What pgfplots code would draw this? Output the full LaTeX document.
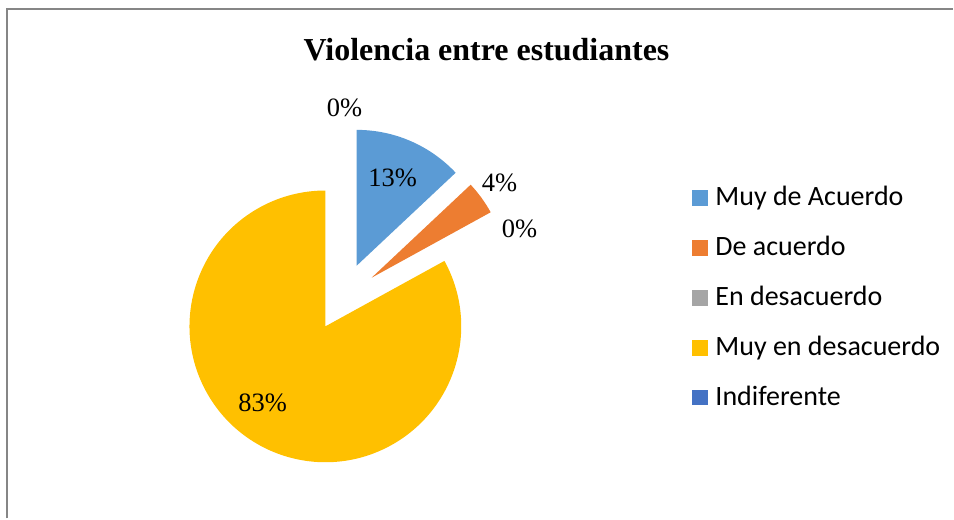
\documentclass[border=0pt]{standalone}
\usepackage{pgfplots}
\pgfplotsset{compat=1.18}
\usepackage{fontspec}
\setmainfont{Liberation Serif}
\newfontfamily\calibri{Carlito}
\definecolor{cA}{HTML}{5B9BD5}
\definecolor{cB}{HTML}{ED7D31}
\definecolor{cC}{HTML}{A5A5A5}
\definecolor{cD}{HTML}{FFC000}
\definecolor{cE}{HTML}{4472C4}
\definecolor{frame}{HTML}{868686}
% values (percent)
\def\vA{13}\def\vB{4}\def\vC{0}\def\vD{83}\def\vE{0}
\pgfmathsetmacro\sA{90}
\pgfmathsetmacro\eA{\sA-3.6*\vA}
\pgfmathsetmacro\eB{\eA-3.6*\vB}
\pgfmathsetmacro\eC{\eB-3.6*\vC}
\pgfmathsetmacro\eD{\eC-3.6*\vD}
\begin{document}
\begin{tikzpicture}
\begin{axis}[
  x=1pt, y=1pt, xmin=0, xmax=954, ymin=0, ymax=519, y dir=reverse,
  hide axis, clip=false, scale only axis,
]
\addplot[draw=none] coordinates {(0,0) (954,519)};
% frame
\draw[frame, line width=2pt] (axis cs:7,519) -- (axis cs:7,9.5) -- (axis cs:954,9.5);
% title
\node[font=\bfseries\fontsize{32}{36}\selectfont] at (axis cs:487,50) {Violencia entre estudiantes};
% slices
\fill[cA] (axis cs:357,266) -- ++(\sA:136pt) arc[start angle=\sA, end angle=\eA, radius=136pt] -- cycle;
\fill[cB] (axis cs:372,278) -- ++(\eA:136pt) arc[start angle=\eA, end angle=\eB, radius=136pt] -- cycle;
\fill[cD] (axis cs:325.7,326.7) -- ++(\eC:136pt) arc[start angle=\eC, end angle=\eD, radius=136pt] -- cycle;
% data labels
\begin{scope}[every node/.style={font=\fontsize{26.5}{30}\selectfont}]
\node at (axis cs:345,108) {\vE\%};
\node at (axis cs:393,178) {\vA\%};
\node at (axis cs:500,183) {\vB\%};
\node at (axis cs:520,229) {\vC\%};
\node at (axis cs:263,403) {\vD\%};
\end{scope}
% legend
\begin{scope}[every node/.style={font=\calibri\fontsize{28}{32}\selectfont, anchor=base west, inner sep=0pt}]
\fill[cA] (axis cs:693,190.5) rectangle (axis cs:709,206);
\node at (axis cs:716,206) {Muy de Acuerdo};
\fill[cB] (axis cs:693,240.5) rectangle (axis cs:709,256);
\node at (axis cs:716,256) {De acuerdo};
\fill[cC] (axis cs:693,290.5) rectangle (axis cs:709,306);
\node at (axis cs:716,306) {En desacuerdo};
\fill[cD] (axis cs:693,340.5) rectangle (axis cs:709,356);
\node at (axis cs:716,356) {Muy en desacuerdo};
\fill[cE] (axis cs:693,390) rectangle (axis cs:709,405.5);
\node at (axis cs:716,405.5) {Indiferente};
\end{scope}
\end{axis}
\end{tikzpicture}
\end{document}
